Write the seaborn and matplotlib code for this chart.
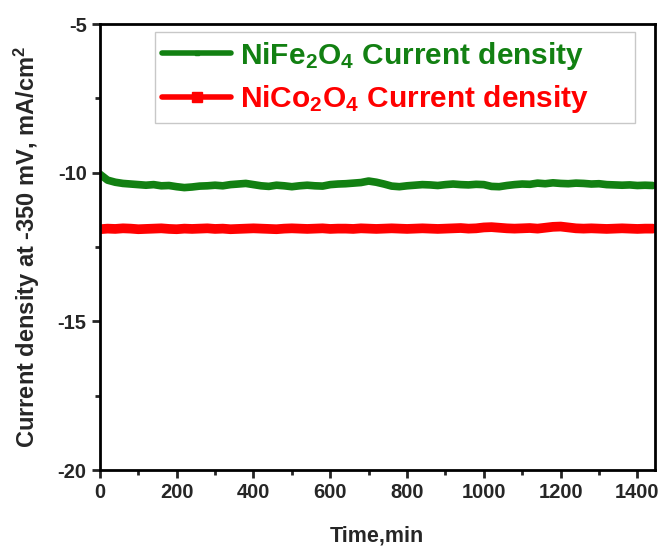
import numpy as np
import pandas as pd
import matplotlib
matplotlib.use("Agg")
import matplotlib.pyplot as plt
import seaborn as sns
from matplotlib.ticker import MultipleLocator
from matplotlib.lines import Line2D

time_min = list(range(0, 1441, 20))

nife2o4 = [-10.05, -10.25, -10.32, -10.36, -10.38, -10.40, -10.42, -10.40, -10.44, -10.43,
           -10.47, -10.50, -10.48, -10.45, -10.44, -10.42, -10.44, -10.40, -10.38, -10.36,
           -10.40, -10.44, -10.46, -10.42, -10.44, -10.47, -10.44, -10.42, -10.44, -10.45,
           -10.40, -10.38, -10.37, -10.35, -10.33, -10.28, -10.32, -10.38, -10.45, -10.47,
           -10.44, -10.42, -10.40, -10.41, -10.43, -10.40, -10.38, -10.40, -10.41, -10.39,
           -10.40, -10.46, -10.47, -10.43, -10.40, -10.38, -10.39, -10.35, -10.37, -10.34,
           -10.36, -10.37, -10.35, -10.36, -10.38, -10.37, -10.40, -10.41, -10.42, -10.41,
           -10.43, -10.42, -10.43]

nico2o4 = [-11.90, -11.88, -11.89, -11.87, -11.88, -11.90, -11.89, -11.88, -11.87, -11.89,
           -11.90, -11.88, -11.89, -11.88, -11.87, -11.89, -11.88, -11.90, -11.89, -11.88,
           -11.87, -11.88, -11.89, -11.90, -11.88, -11.87, -11.88, -11.89, -11.88, -11.87,
           -11.89, -11.88, -11.88, -11.89, -11.87, -11.88, -11.89, -11.88, -11.87, -11.88,
           -11.89, -11.88, -11.87, -11.88, -11.89, -11.88, -11.87, -11.86, -11.88, -11.87,
           -11.84, -11.83, -11.85, -11.87, -11.88, -11.87, -11.86, -11.88, -11.85, -11.82,
           -11.81, -11.84, -11.87, -11.88, -11.87, -11.88, -11.89, -11.88, -11.87, -11.88,
           -11.89, -11.88, -11.88]

label_fe = r"NiFe$_\mathbf{2}$O$_\mathbf{4}$ Current density"
label_co = r"NiCo$_\mathbf{2}$O$_\mathbf{4}$ Current density"
green = "#128012"
red = "#ff0000"

sns.set_style("ticks")
plt.rcParams['font.family'] = ['Liberation Sans', 'DejaVu Sans']
plt.rcParams['mathtext.fontset'] = 'custom'
plt.rcParams['mathtext.rm'] = 'Liberation Sans:bold'
plt.rcParams['mathtext.bf'] = 'Liberation Sans:bold'
plt.rcParams['mathtext.default'] = 'bf'
plt.rcParams['axes.unicode_minus'] = False

fig = plt.figure(figsize=(6.66, 5.46), dpi=100)
ax = fig.add_axes([0.150, 0.139, 0.833, 0.817])

df_fe = pd.DataFrame({"t": time_min, "j": nife2o4})
df_co = pd.DataFrame({"t": time_min, "j": nico2o4})

sns.lineplot(data=df_fe, x="t", y="j", ax=ax, color=green, linewidth=5.5, legend=False)
sns.lineplot(data=df_co, x="t", y="j", ax=ax, color=red, linewidth=7, legend=False)

ax.set_xlim(0, 1445)
ax.set_ylim(-20, -5)
ax.xaxis.set_major_locator(MultipleLocator(200))
ax.xaxis.set_minor_locator(MultipleLocator(100))
ax.yaxis.set_major_locator(MultipleLocator(5))
ax.yaxis.set_minor_locator(MultipleLocator(2.5))
ax.tick_params(which='major', length=6, width=2, labelsize=14.5, direction='out')
ax.tick_params(which='minor', length=3.5, width=2, direction='out')
for lab in ax.get_xticklabels() + ax.get_yticklabels():
    lab.set_fontweight('bold')
for sp in ax.spines.values():
    sp.set_linewidth(2)
    sp.set_color('black')

ax.set_xlabel("Time,min", fontsize=15.5, fontweight='bold', labelpad=17)
ax.set_ylabel(r"Current density at -350 mV, mA/cm$^2$", fontsize=17, fontweight='bold', labelpad=11)

handles = [Line2D([], [], color=green, linewidth=4, marker='s', markersize=2.5,
                  markerfacecolor=green, markeredgecolor=green),
           Line2D([], [], color=red, linewidth=4, marker='s', markersize=7,
                  markerfacecolor=red, markeredgecolor=red)]
leg = ax.legend(handles, [label_fe, label_co], loc='upper left',
                bbox_to_anchor=(0.099, 0.5, 0.865, 0.482), mode='expand', borderaxespad=0,
                fancybox=False, frameon=True, edgecolor='#bbbbbb', handlelength=2.3,
                handletextpad=0.3, labelspacing=0.4, borderpad=0.25,
                prop={'weight': 'bold', 'size': 21.5})
leg.get_frame().set_linewidth(1)
for txt, c in zip(leg.get_texts(), [green, red]):
    txt.set_color(c)

fig.savefig("out.png", dpi=100)
